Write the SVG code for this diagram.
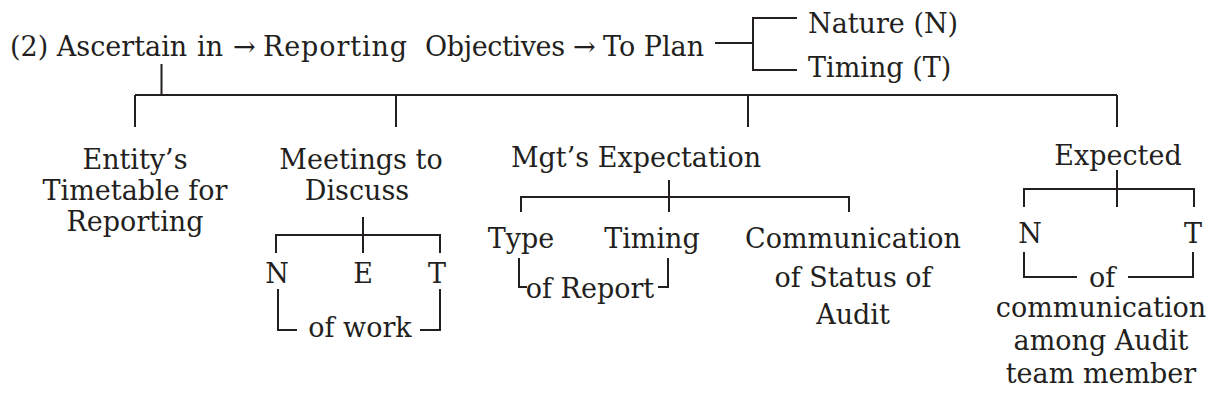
<svg xmlns="http://www.w3.org/2000/svg" width="1217" height="410" viewBox="0 0 1217 410">
<style>
text{font-family:"DejaVu Serif","Liberation Serif",serif;font-size:27px;fill:#231f20}
.m{text-anchor:middle}
.ln{fill:none;stroke:#231f20;stroke-width:2}
</style>
<rect width="1217" height="410" fill="#fff"/>
<g id="connectors" class="ln">
<path d="M161.5 64V95M135 95H1117M135 95V127M396 95V127M748 95V127M1117 95V127"/>
<path d="M715 43H753M797 18H753V70H797"/>
<path d="M363 217V253M276 253V235H440V253"/>
<path d="M278 289V330H297M420 330H440V289"/>
<path d="M669 180V212M521 212V197H849V212"/>
<path d="M519 258V287H527M658 287H668V258"/>
<path d="M1117 170V207M1024 207V189H1194V207"/>
<path d="M1024 252V277H1077M1128 277H1193V252"/>
</g>
<g id="root">
<text x="10" y="56">(2) Ascertain</text>
<text x="197" y="56">in</text>
<text x="233" y="56">→</text>
<text x="263" y="56" textLength="144">Reporting</text>
<text x="425" y="56" textLength="140">Objectives</text>
<text x="573" y="56">→</text>
<text x="603" y="56">To Plan</text>
</g>
<g id="nature"><text x="808" y="33">Nature (N)</text></g>
<g id="timing-top"><text x="808" y="77">Timing (T)</text></g>
<g id="entity"><text class="m" x="135" y="169">Entity’s</text><text class="m" x="135" y="200">Timetable for</text><text class="m" x="135" y="231">Reporting</text></g>
<g id="meetings"><text class="m" x="361" y="169">Meetings to</text><text class="m" x="357" y="200">Discuss</text></g>
<g id="net"><text class="m" x="277" y="283">N</text><text class="m" x="363" y="283">E</text><text class="m" x="437" y="283">T</text></g>
<g id="ofwork"><text class="m" x="360" y="337">of work</text></g>
<g id="mgt"><text class="m" x="636" y="167">Mgt’s Expectation</text></g>
<g id="type"><text class="m" x="521" y="248">Type</text></g>
<g id="timing"><text class="m" x="652" y="248">Timing</text></g>
<g id="ofreport"><text class="m" x="590" y="298">of Report</text></g>
<g id="comm"><text class="m" x="853" y="248">Communication</text><text class="m" x="853" y="287">of Status of</text><text class="m" x="853" y="324">Audit</text></g>
<g id="expected"><text class="m" x="1118" y="165">Expected</text></g>
<g id="exp-nt"><text class="m" x="1030" y="243">N</text><text class="m" x="1193" y="243">T</text></g>
<g id="exp-of"><text class="m" x="1102" y="287">of</text><text class="m" x="1101" y="317">communication</text><text class="m" x="1101" y="350">among Audit</text><text class="m" x="1101" y="383">team member</text></g>
</svg>
